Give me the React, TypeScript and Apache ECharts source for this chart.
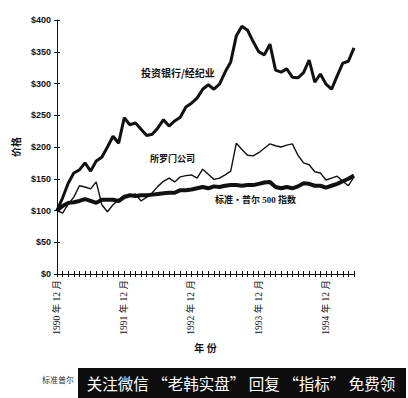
import React, { useEffect, useRef } from "react";
import * as echarts from "echarts";

// Months from 1990-12 to 1995-05 (54 monthly points)
const yearLabels = ["1990 年 12 月", "1991 年 12 月", "1992 年 12 月", "1993 年 12 月", "1994 年 12 月"];
const monthCount = 54;
const categories: string[] = [];
for (let i = 0; i < monthCount; i++) {
  const y = 1990 + Math.floor((11 + i) / 12);
  const m = ((11 + i) % 12) + 1;
  categories.push(`${y}-${m}`);
}

const investmentBanking = [100, 120, 143, 159, 164, 175, 162, 178, 184, 200, 217, 206, 246, 235, 238, 228, 218, 220, 230, 243, 233, 241, 247, 263, 269, 277, 291, 298, 291, 299, 318, 334, 375, 390, 384, 366, 350, 345, 362, 321, 318, 323, 310, 309, 317, 337, 302, 315, 299, 291, 312, 332, 335, 356];
const solomon = [100, 96, 110, 121, 139, 137, 134, 145, 109, 98, 109, 117, 124, 123, 126, 115, 121, 128, 138, 146, 151, 145, 153, 155, 156, 151, 165, 157, 149, 151, 156, 162, 206, 196, 187, 186, 191, 198, 205, 202, 200, 203, 205, 187, 175, 172, 161, 159, 148, 151, 154, 146, 139, 153];
const sp500 = [100, 107, 112, 113, 115, 118, 115, 112, 117, 117, 117, 115, 121, 124, 123, 124, 124, 125, 126, 127, 128, 128, 132, 132, 133, 135, 137, 135, 138, 137, 139, 140, 140, 139, 140, 140, 142, 144, 145, 137, 135, 137, 135, 138, 143, 142, 139, 139, 136, 139, 142, 146, 150, 155];

const seriesNames = ["投资银行/经纪业", "所罗门公司", "标准・普尔 500 指数"];
const yAxisName = "价格";
const xAxisName = "年 份";
const bannerText = "关注微信 “老韩实盘” 回复 “指标” 免费领";
const footText = "标准普尔";

const CJK = "'Noto Sans CJK SC', sans-serif";
const SERIF_CJK = "'Liberation Serif', 'Noto Sans CJK SC', serif";

export default function App() {
  const ref = useRef<HTMLDivElement>(null);
  useEffect(() => {
    if (!ref.current) return;
    const chart = echarts.init(ref.current, undefined, { renderer: "svg" });
    const ink = "#111";
    chart.setOption({
      animation: false,
      backgroundColor: "#fff",
      grid: { left: 57, right: 54, top: 20, bottom: 124 },
      xAxis: [
        {
          type: "category",
          data: categories,
          boundaryGap: false,
          position: "bottom",
          name: xAxisName,
          nameLocation: "middle",
          nameGap: 59,
          nameTextStyle: { color: ink, fontSize: 10, fontWeight: "bold", fontFamily: CJK },
          axisLine: { lineStyle: { color: ink, width: 1 } },
          axisTick: { show: true, interval: 0, length: 3, lineStyle: { color: ink } },
          axisLabel: {
            interval: (i: number) => i % 12 === 0,
            formatter: (_v: string, i: number) => (i % 12 === 0 ? yearLabels[i / 12] : ""),
            rotate: 90,
            margin: 6,
            color: ink,
            fontSize: 9.5,
            fontFamily: SERIF_CJK,
          },
          splitLine: { show: false },
        },
        {
          type: "category",
          data: categories,
          boundaryGap: false,
          position: "bottom",
          axisLine: { show: false },
          axisTick: { show: true, inside: true, interval: 0, length: 3, lineStyle: { color: ink } },
          axisLabel: { show: false },
          splitLine: { show: false },
        },
      ],
      yAxis: [
        {
          type: "value",
          min: 0,
          max: 400,
          interval: 50,
          position: "left",
          name: yAxisName,
          nameLocation: "middle",
          nameGap: 31,
          nameRotate: 90,
          nameTextStyle: { color: ink, fontSize: 10, fontWeight: "bold", fontFamily: CJK },
          axisLine: { show: true, lineStyle: { color: ink, width: 1 } },
          axisTick: { show: true, length: 3, lineStyle: { color: ink } },
          axisLabel: {
            formatter: (v: number) => `$${v}`,
            color: ink,
            fontSize: 9,
            fontWeight: "bold",
            fontFamily: "'Liberation Sans', Arial, sans-serif",
            margin: 6,
          },
          splitLine: { show: false },
        },
        {
          type: "value",
          min: 0,
          max: 400,
          interval: 50,
          position: "left",
          axisLine: { show: false },
          axisTick: { show: true, inside: true, length: 3, lineStyle: { color: ink } },
          axisLabel: { show: false },
          splitLine: { show: false },
        },
      ],
      series: [
        {
          name: seriesNames[0],
          type: "line",
          data: investmentBanking,
          symbol: "none",
          lineStyle: { color: ink, width: 3 },
          z: 3,
        },
        {
          name: seriesNames[1],
          type: "line",
          data: solomon,
          symbol: "none",
          lineStyle: { color: ink, width: 1.4 },
          z: 2,
        },
        {
          name: seriesNames[2],
          type: "line",
          data: sp500,
          symbol: "none",
          lineStyle: { color: ink, width: 4 },
          z: 4,
        },
      ],
      graphic: [
        {
          type: "text",
          x: 141,
          y: 72,
          style: { text: seriesNames[0], fill: ink, fontSize: 10, fontWeight: "bold", fontFamily: CJK, textAlign: "left", textVerticalAlign: "middle" },
        },
        {
          type: "text",
          x: 150,
          y: 158,
          style: { text: seriesNames[1], fill: ink, fontSize: 9, fontWeight: "bold", fontFamily: CJK, textAlign: "left", textVerticalAlign: "middle" },
        },
        {
          type: "text",
          x: 215,
          y: 200,
          style: { text: seriesNames[2], fill: ink, fontSize: 9, fontWeight: "bold", fontFamily: SERIF_CJK, textAlign: "left", textVerticalAlign: "middle" },
        },
        {
          type: "text",
          x: 42,
          y: 379,
          style: { text: footText, fill: "#333", fontSize: 8, fontFamily: CJK, textAlign: "left", textVerticalAlign: "middle" },
        },
        {
          type: "rect",
          shape: { x: 78, y: 368, width: 328, height: 30 },
          style: { fill: "#0d0d0d" },
          z: 100,
        },
        {
          type: "text",
          x: 241,
          y: 383,
          z: 101,
          style: { text: bannerText, fill: "#fff", fontSize: 15.5, fontFamily: CJK, textAlign: "center", textVerticalAlign: "middle" },
        },
      ],
    });
    return () => chart.dispose();
  }, []);
  return <div ref={ref} style={{ position: "fixed", left: 0, top: 0, width: 408, height: 398 }} />;
}
